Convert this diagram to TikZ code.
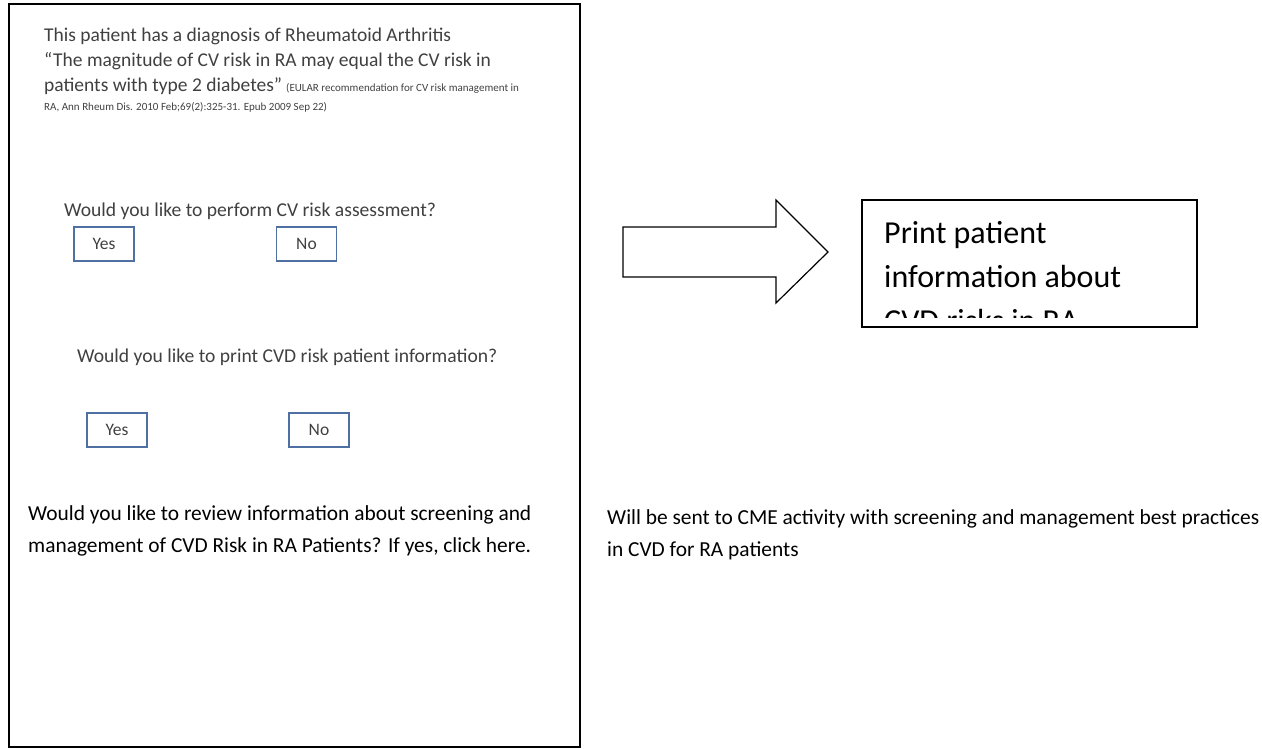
\documentclass[tikz,border=0pt]{standalone}
\usepackage{fontspec}
\setmainfont{Carlito}
\usetikzlibrary{positioning}
\definecolor{btnblue}{RGB}{79,112,163}
\definecolor{txtgray}{RGB}{64,64,64}

\begin{document}
\begin{tikzpicture}[x=1pt, y=-1pt,
        frame_box/.style={draw=black, line width=2pt},
        answer_box/.style={draw=btnblue, line width=1.8pt, minimum width=60pt, minimum height=34pt, inner sep=0pt, text=txtgray, font=\fontsize{17.5}{20}\selectfont},
        title_text/.style={anchor=base west, inner sep=0pt, align=left, text=txtgray, font=\fontsize{19.5}{25}\selectfont},
        cite_text/.style={anchor=base west, inner sep=0pt, text=txtgray, font=\fontsize{11}{13}\selectfont},
        question_text/.style={anchor=base west, inner sep=0pt, text=txtgray, font=\fontsize{19.6}{22}\selectfont},
        body_text/.style={anchor=base west, inner sep=0pt, align=left, font=\fontsize{21.4}{32}\selectfont},
        print_text/.style={anchor=base west, inner sep=0pt, align=left, font=\fontsize{32}{44}\selectfont}
        ]
            \useasboundingbox (0,0) rectangle (1262,749);

            % left panel
            \draw[frame_box] (9,4) rectangle (580,747);
            \node[title_text] (title)  at (44,92)  {This patient has a diagnosis of Rheumatoid Arthritis\\ ``The magnitude of CV risk in RA may equal the CV risk in\\ patients with type 2 diabetes''};
            \node[cite_text]  (cite_1) at (286,92) {(EULAR recommendation for CV risk management in};
            \node[cite_text]  (cite_2) at (44,111) {RA, Ann Rheum Dis. 2010 Feb;69(2):325-31. Epub 2009 Sep 22)};

            % question 1
            \node[question_text] (ask_cv)    at (64,216)   {Would you like to perform CV risk assessment?};
            \node[answer_box]    (yes_cv)    at (104,244)  {Yes};
            \node[answer_box]    (no_cv)     at (306.5,244) {No};
            % question 2
            \node[question_text] (ask_print) at (77,362)   {Would you like to print CVD risk patient information?};
            \node[answer_box]    (yes_print) at (117,430)  {Yes};
            \node[answer_box]    (no_print)  at (319,430)  {No};
            % question 3
            \node[body_text]     (ask_review) at (28,552)  {Would you like to review information about screening and\\ management of CVD Risk in RA Patients? If yes, click here.};

            % right side
            \draw[black, line width=1.2pt] (623,227) -- (776,227) -- (776,200) -- (828,252)
                -- (776,303) -- (776,277) -- (623,277) -- cycle;
            \draw[black, line width=1.5pt] (862,200) rectangle (1197,327);
            \begin{scope}
                \clip (862,200) rectangle (1197,317);
                \node[print_text] (print_info) at (884,331) {Print patient\\ information about\\ CVD risks in RA};
            \end{scope}
            \node[body_text] (cme_info) at (607,556) {Will be sent to CME activity with screening and management best practices\\ in CVD for RA patients};
        \end{tikzpicture}
\end{document}
